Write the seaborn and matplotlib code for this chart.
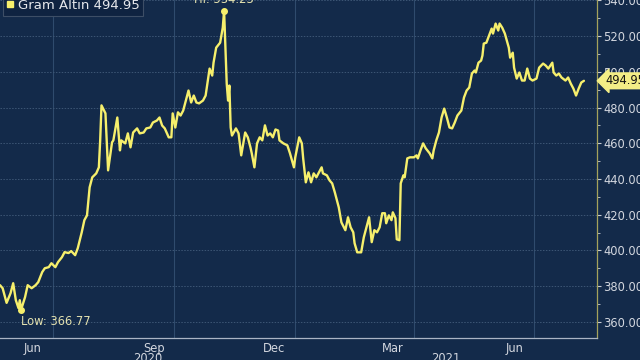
import numpy as np
import pandas as pd
import matplotlib
matplotlib.use("Agg")
import matplotlib.pyplot as plt
import matplotlib.dates as mdates
import matplotlib.transforms as mtransforms
from matplotlib.lines import Line2D
import seaborn as sns

# ---------------- data ----------------
start_date = "2020-05-22"
day_offsets = [0, 2, 5, 8, 10, 12, 14, 15, 16, 19, 21, 24, 27, 29, 32, 34, 37, 39, 42, 44,
               47, 49, 52, 54, 57, 59, 62, 64, 66, 68, 70, 73, 75, 76, 77, 80, 82, 85, 86, 89,
               91, 92, 95, 97, 99, 101, 104, 106, 109, 111, 114, 116, 119, 121, 123, 125, 128, 130, 131, 133,
               135, 137, 139, 141, 143, 145, 147, 149, 151, 154, 156, 158, 159, 161, 162, 164, 167, 169, 170, 172,
               173, 174, 175, 176, 179, 181, 183, 185, 186, 188, 190, 191, 193, 195, 197, 199, 201, 203, 205, 207,
               209, 211, 212, 215, 218, 220, 223, 224, 227, 229, 230, 232, 234, 236, 238, 240, 244, 245, 248, 250,
               252, 254, 257, 259, 262, 264, 266, 268, 269, 271, 274, 276, 278, 280, 282, 284, 286, 288, 290, 292,
               293, 295, 297, 298, 300, 301, 303, 304, 306, 307, 309, 311, 314, 316, 317, 319, 321, 323, 326, 328,
               329, 331, 333, 335, 337, 339, 341, 343, 345, 347, 350, 352, 354, 356, 358, 360, 361, 363, 365, 366,
               367, 369, 371, 373, 374, 376, 378, 379, 381, 383, 386, 387, 389, 390, 392, 394, 396, 398, 400, 402,
               404, 407, 409, 412, 414, 416, 419, 420, 422, 424, 426, 429, 431, 433, 435, 437, 439, 441, 443]
prices = [380.5, 378.8, 370.6, 376.0, 381.6, 372.1, 367.7, 372.1, 366.77, 373.8, 380.5, 378.8, 380.5, 382.2, 387.8, 390.0, 390.6, 392.8, 390.6, 393.4,
          396.2, 399.0, 398.5, 399.6, 397.3, 401.2, 410.1, 416.9, 419.6, 435.3, 440.9, 443.1, 446.5, 461.6, 481.2, 476.7, 444.8, 460.5, 461.6, 474.4,
          456.0, 461.6, 459.9, 465.5, 457.7, 466.0, 468.3, 465.5, 466.0, 468.3, 468.8, 471.6, 472.7, 474.4, 469.9, 468.3, 463.3, 463.3, 476.7, 468.8,
          477.3, 475.5, 478.3, 483.9, 489.5, 482.8, 486.7, 482.8, 482.3, 483.9, 486.7, 496.8, 501.8, 497.9, 505.1, 513.5, 516.3, 524.7, 534.23, 493.4,
          483.9, 492.3, 468.8, 464.3, 468.3, 465.5, 453.2, 461.6, 466.0, 463.3, 457.7, 454.3, 446.5, 459.9, 463.3, 461.6, 470.0, 464.3, 465.5, 463.3,
          467.7, 467.1, 461.6, 459.9, 458.8, 454.3, 446.5, 452.1, 463.3, 459.9, 451.5, 438.1, 443.7, 438.1, 443.1, 440.9, 446.5, 443.1, 442.0, 439.2,
          437.5, 432.5, 424.1, 415.7, 411.3, 418.5, 412.9, 410.1, 404.0, 398.9, 398.9, 407.3, 412.9, 418.5, 404.6, 411.3, 410.1, 412.9, 420.8, 420.8,
          415.2, 419.6, 416.9, 421.3, 418.0, 406.2, 405.7, 437.5, 442.0, 440.9, 451.5, 452.1, 452.1, 453.2, 451.5, 456.0, 459.9, 457.1, 454.3, 451.5,
          456.0, 461.6, 466.0, 474.4, 479.4, 474.4, 468.8, 468.3, 471.6, 475.5, 478.3, 485.6, 489.5, 491.2, 499.0, 500.7, 499.6, 505.1, 506.3, 509.1,
          515.8, 516.3, 520.3, 524.2, 521.4, 527.0, 523.1, 527.0, 524.7, 521.4, 513.5, 507.9, 510.7, 502.3, 496.2, 499.6, 495.1, 495.1, 501.8, 496.2,
          495.1, 496.2, 502.3, 504.6, 503.5, 501.8, 505.1, 499.6, 497.9, 499.0, 496.8, 495.1, 496.8, 493.4, 490.6, 486.7, 490.6, 494.0, 494.95]
series_name = "Gram Altın"
month_labels = ["Jun", "Sep", "Dec", "Mar", "Jun"]
month_label_dates = ["2020-06-16", "2020-09-16", "2020-12-16", "2021-03-16", "2021-06-16"]
quarter_grid_dates = ["2020-07-01", "2020-10-01", "2021-01-01", "2021-04-01", "2021-07-01"]
year_labels = ["2020", "2021"]
x_limits = ["2020-05-22", "2021-08-18"]
y_limits = (350.9, 540.2)
y_ticks = [360, 380, 400, 420, 440, 460, 480, 500, 520, 540]

# ---------------- style ----------------
BG = "#132a4a"
LINE = "#f6ef6c"
TXT = "#d3d7df"

sns.set_style("dark")
plt.rcParams["font.family"] = ["DejaVu Sans"]

df = pd.DataFrame({
    "date": pd.Timestamp(start_date) + pd.to_timedelta(day_offsets, unit="D"),
    "price": prices,
})

fig = plt.figure(figsize=(6.4, 3.6), dpi=100, facecolor=BG)
ax = fig.add_axes([0.0, 0.061, 0.933, 0.939])
ax.set_facecolor(BG)

sns.lineplot(data=df, x="date", y="price", ax=ax, color=LINE, linewidth=1.7)

ax.set_xlim(pd.Timestamp(x_limits[0]), pd.Timestamp(x_limits[1]))
ax.set_ylim(*y_limits)
ax.set_xlabel("")
ax.set_ylabel("")

# y axis on the right
ax.yaxis.tick_right()
ax.set_yticks(y_ticks)
ax.yaxis.set_major_formatter(matplotlib.ticker.FormatStrFormatter("%.2f"))
ax.yaxis.set_minor_locator(matplotlib.ticker.MultipleLocator(10))
ax.tick_params(axis="y", which="major", colors="#c8ccd4", labelcolor=TXT, labelsize=8.3,
               length=3, width=0.8, pad=1.5, right=True, left=False)
ax.tick_params(axis="y", which="minor", colors="#c8ccd4", length=2, width=0.6, right=True, left=False)
ax.grid(axis="y", which="major", color="#3d5675", linestyle=(0, (1.5, 1.5)), linewidth=0.7)

# x axis: month ticks, quarter grid, mid-month labels
ax.xaxis.set_major_locator(mdates.MonthLocator(bymonthday=1))
ax.xaxis.set_major_formatter(matplotlib.ticker.NullFormatter())
ax.tick_params(axis="x", which="major", colors="#aab4c4", length=3, width=0.8, direction="out")
ax.set_xticks(pd.to_datetime(month_label_dates), minor=True)
ax.set_xticklabels(month_labels, minor=True)
ax.tick_params(axis="x", which="minor", length=0, labelcolor=TXT, labelsize=8.3, pad=3)
ax.grid(axis="x", which="both", visible=False)
for d in quarter_grid_dates:
    ax.axvline(pd.Timestamp(d), color="#2f4b6d", linewidth=0.8, zorder=0.5)

# year labels at the middle of each visible year span
x0, x1 = ax.get_xlim()
trans = mtransforms.blended_transform_factory(ax.transData, ax.transAxes)
for yl in year_labels:
    ys = max(x0, mdates.date2num(pd.Timestamp(f"{yl}-01-01")))
    ye = min(x1, mdates.date2num(pd.Timestamp(f"{int(yl)+1}-01-01")))
    ax.text((ys + ye) / 2, -0.042, yl, transform=trans, ha="center", va="top",
            color=TXT, fontsize=8.3, clip_on=False)

# spines
for s in ["top", "left"]:
    ax.spines[s].set_visible(False)
ax.spines["bottom"].set_color("#aab4c4")
ax.spines["bottom"].set_linewidth(0.9)
ax.spines["right"].set_color("#a4a25c")
ax.spines["right"].set_linewidth(0.9)

# hi / low annotations
imax = df["price"].idxmax()
imin = df["price"].idxmin()
ax.plot(df.loc[imax, "date"], df.loc[imax, "price"], "o", color=LINE, markersize=4, zorder=5)
ax.plot(df.loc[imin, "date"], df.loc[imin, "price"], "o", color=LINE, markersize=4, zorder=5)
ax.annotate(f"Hi: {df.loc[imax, 'price']:.2f}", (df.loc[imax, "date"], df.loc[imax, "price"]),
            xytext=(0, 3), textcoords="offset points", ha="center", va="bottom",
            color="#e4e2b0", fontsize=8.3)
ax.annotate(f"Low: {df.loc[imin, 'price']:.2f}", (df.loc[imin, "date"], df.loc[imin, "price"]),
            xytext=(0, -4), textcoords="offset points", ha="left", va="top",
            color="#e4e2b0", fontsize=8.3)

# last value tag on the right axis
last = df["price"].iloc[-1]
ax.annotate(f"{last:.2f}", xy=(1.0, last), xycoords=("axes fraction", "data"),
            xytext=(6, 0), textcoords="offset points", ha="left", va="center",
            fontsize=8.3, color="#111111", annotation_clip=False, zorder=10,
            bbox=dict(boxstyle="larrow,pad=0.12", fc="#f3ee86", ec="#f3ee86"))

# legend box at top-left
handle = Line2D([], [], marker="s", linestyle="none", color=LINE, markersize=5)
leg = ax.legend([handle], [f"{series_name} {last:.2f}"], loc="upper left",
                bbox_to_anchor=(-0.006, 1.035), frameon=True, fancybox=False,
                handlelength=0.5, handletextpad=0.3, borderpad=0.3,
                fontsize=9.5, labelcolor="#e6e8ec")
leg.get_frame().set_facecolor("#0f2341")
leg.get_frame().set_edgecolor("#3d4e66")
leg.get_frame().set_linewidth(0.8)
leg.get_frame().set_alpha(1.0)

fig.savefig("out.png", dpi=100, facecolor=BG)
